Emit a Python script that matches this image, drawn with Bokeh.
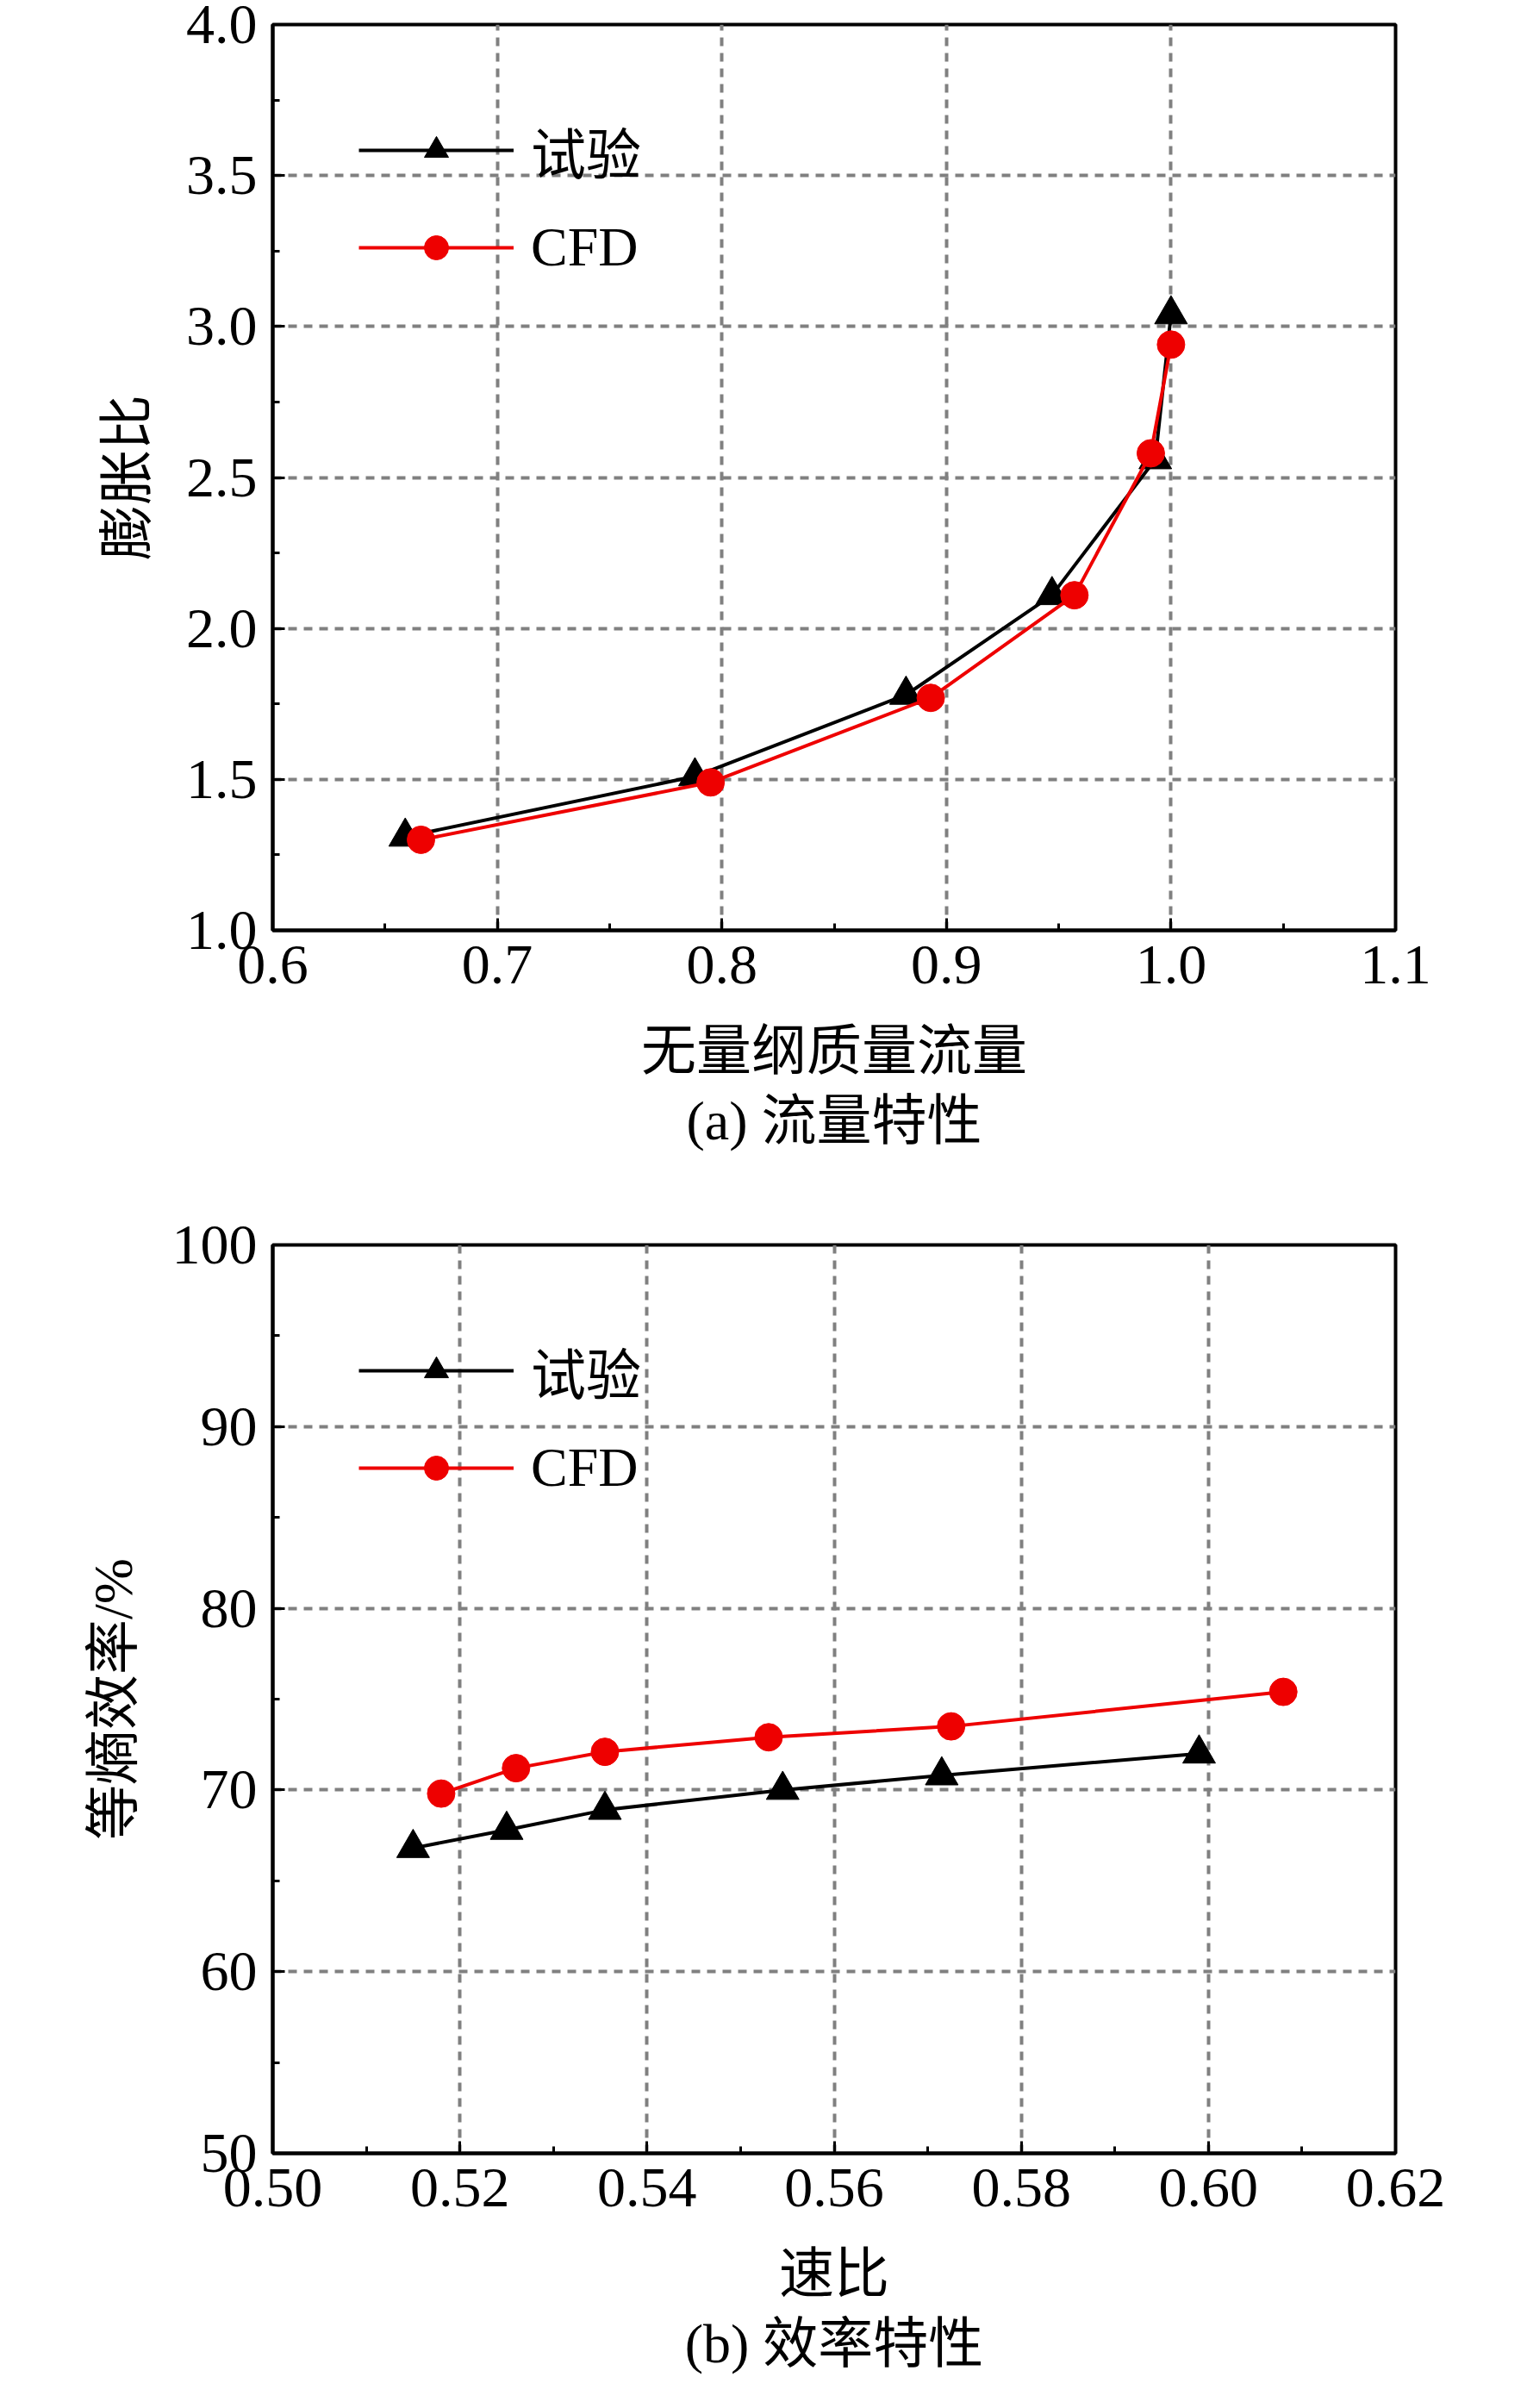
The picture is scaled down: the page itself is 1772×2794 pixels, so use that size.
from bokeh.plotting import figure
from bokeh.layouts import column
from bokeh.models import Range1d, FixedTicker, Legend, LegendItem, Title, CustomJSTickFormatter
from bokeh.embed import file_html
from bokeh.resources import INLINE

# (a) flow characteristics
a_exp_x = [0.659, 0.788, 0.882, 0.947, 0.993, 1.0]
a_exp_y = [1.31, 1.51, 1.78, 2.11, 2.56, 3.04]
a_cfd_x = [0.666, 0.795, 0.893, 0.957, 0.991, 1.0]
a_cfd_y = [1.30, 1.49, 1.77, 2.11, 2.58, 2.94]
a_xticks = [0.6, 0.7, 0.8, 0.9, 1.0, 1.1]
a_yticks = [1.0, 1.5, 2.0, 2.5, 3.0, 3.5, 4.0]

# (b) efficiency characteristics
b_exp_x = [0.515, 0.525, 0.5355, 0.5545, 0.5715, 0.599]
b_exp_y = [66.8, 67.8, 68.9, 70.0, 70.8, 72.0]
b_cfd_x = [0.518, 0.526, 0.5355, 0.553, 0.5725, 0.608]
b_cfd_y = [69.8, 71.2, 72.1, 72.9, 73.5, 75.4]
b_xticks = [0.50, 0.52, 0.54, 0.56, 0.58, 0.60, 0.62]
b_yticks = [50, 60, 70, 80, 90, 100]

FONT = "Liberation Serif, Noto Sans CJK SC"


def make(xs1, ys1, xs2, ys2, xr, yr, xt, yt, xminor, yminor, xlab, ylab, cap,
         fmt_x, fmt_y, bt, bb, height):
    p = figure(width=1756, height=height, output_backend="svg", toolbar_location=None,
               x_range=Range1d(*xr), y_range=Range1d(*yr),
               min_border_left=316, min_border_right=137,
               min_border_top=bt, min_border_bottom=bb)
    p.outline_line_color = "black"
    p.outline_line_width = 4
    p.xaxis.ticker = FixedTicker(ticks=xt, minor_ticks=xminor)
    p.yaxis.ticker = FixedTicker(ticks=yt, minor_ticks=yminor)
    p.xaxis.formatter = CustomJSTickFormatter(code="return tick.toFixed(%d)" % fmt_x)
    p.yaxis.formatter = CustomJSTickFormatter(code="return tick.toFixed(%d)" % fmt_y)
    for ax in (p.xaxis[0], p.yaxis[0]):
        ax.axis_line_width = 4
        ax.major_tick_in = 14
        ax.major_tick_out = 0
        ax.minor_tick_in = 8
        ax.minor_tick_out = 0
        ax.major_tick_line_width = 3
        ax.minor_tick_line_width = 3
        ax.major_label_text_font = FONT
        ax.major_label_text_font_size = "66px"
        ax.major_label_text_color = "black"
        ax.major_label_standoff = 18
        ax.axis_label_text_font = FONT
        ax.axis_label_text_font_size = "64px"
        ax.axis_label_text_font_style = "normal"
        ax.axis_label_text_color = "black"
    p.xaxis.axis_label = xlab
    p.yaxis.axis_label = ylab
    p.xaxis.axis_label_standoff = 40
    p.yaxis.axis_label_standoff = 30
    p.grid.grid_line_color = "#808080"
    p.grid.grid_line_dash = "10 8"
    p.grid.grid_line_width = 4
    r1 = p.line(xs1, ys1, line_color="black", line_width=4)
    m1 = p.scatter(xs1, ys1, marker="triangle", size=38, fill_color="black", line_color="black")
    r2 = p.line(xs2, ys2, line_color="#ee0000", line_width=4)
    m2 = p.scatter(xs2, ys2, marker="circle", size=32, fill_color="#ee0000", line_color="#ee0000")
    leg = Legend(items=[LegendItem(label="试验", renderers=[r1, m1]),
                        LegendItem(label="CFD", renderers=[r2, m2])],
                 location="top_left", border_line_alpha=0, background_fill_alpha=0,
                 label_text_font=FONT, label_text_font_size="64px", label_text_color="black",
                 glyph_width=180, glyph_height=70, spacing=30, margin=90,
                 label_standoff=20, padding=10)
    p.add_layout(leg)
    t = Title(text=cap, align="center", text_font=FONT, text_font_size="64px",
              text_font_style="normal", text_color="black", standoff=10)
    p.add_layout(t, "below")
    return p


pa = make(a_exp_x, a_exp_y, a_cfd_x, a_cfd_y, (0.6, 1.1), (1.0, 4.0), a_xticks, a_yticks,
          [0.65, 0.75, 0.85, 0.95, 1.05], [1.25, 1.75, 2.25, 2.75, 3.25, 3.75],
          "无量纲质量流量", "膨胀比", "(a) 流量特性", 1, 1, 28, 301, 1380)
pb = make(b_exp_x, b_exp_y, b_cfd_x, b_cfd_y, (0.50, 0.62), (50, 100), b_xticks, b_yticks,
          [0.51, 0.53, 0.55, 0.57, 0.59, 0.61], [55, 65, 75, 85, 95],
          "速比", "等熵效率/%", "(b) 效率特性", 2, 0, 64, 280, 1398)

layout = column(pa, pb, spacing=0)
open("out.html", "w").write(file_html(layout, INLINE))
